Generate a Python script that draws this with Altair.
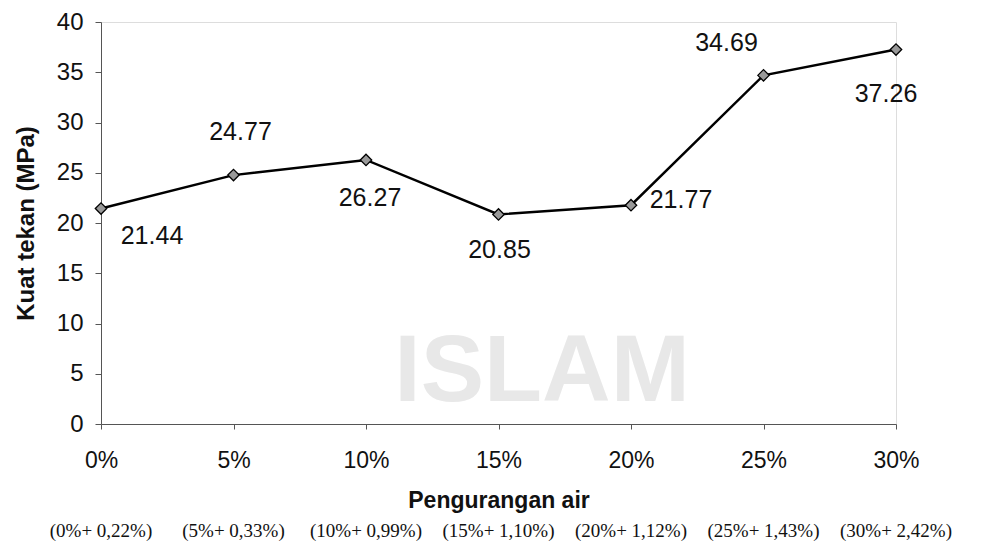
import altair as alt
import pandas as pd

categories = ["0%", "5%", "10%", "15%", "20%", "25%", "30%"]
strength = [21.44, 24.77, 26.27, 20.85, 21.77, 34.69, 37.26]
labels = ["21.44", "24.77", "26.27", "20.85", "21.77", "34.69", "37.26"]
subtitles = ["(0%+ 0,22%)", "(5%+ 0,33%)", "(10%+ 0,99%)", "(15%+ 1,10%)",
             "(20%+ 1,12%)", "(25%+ 1,43%)", "(30%+ 2,42%)"]
y_ticks = [0, 5, 10, 15, 20, 25, 30, 35, 40]

df = pd.DataFrame({"cat": categories, "val": strength, "lab": labels, "sub": subtitles})

x_enc = alt.X("cat:O", sort=categories,
              scale=alt.Scale(type="point", padding=0),
              axis=alt.Axis(title="Pengurangan air", labelAngle=0,
                            labelFont="Liberation Sans", labelFontSize=23,
                            labelColor="#111", labelPadding=20, tickSize=5,
                            tickColor="#555", domainColor="#555",
                            titleFont="Liberation Sans", titleFontSize=23,
                            titleFontWeight="bold", titleColor="#111",
                            titlePadding=17, grid=False))
y_enc = alt.Y("val:Q", scale=alt.Scale(domain=[0, 40], nice=False),
              axis=alt.Axis(title="Kuat tekan (MPa)", values=y_ticks,
                            labelFont="Liberation Sans", labelFontSize=24,
                            labelColor="#111", labelPadding=12, tickSize=6,
                            tickColor="#555", domainColor="#555",
                            titleFont="Liberation Sans", titleFontSize=24,
                            titleFontWeight="bold", titleColor="#111",
                            titlePadding=18, grid=False))

base = alt.Chart(df)

watermark = alt.Chart(pd.DataFrame({"t": ["ISLAM"]})).mark_text(
    font="Liberation Sans", fontSize=95, fontWeight="bold", color="#e8e8e8"
).encode(x=alt.value(441), y=alt.value(350), text="t:N")

line = base.mark_line(color="black", strokeWidth=2.4).encode(x=x_enc, y=y_enc)
points = base.mark_point(shape="diamond", filled=True, size=130, fill="#999",
                         stroke="black", strokeWidth=1.3, opacity=1).encode(x=x_enc, y=y_enc)

offsets = {"0%": (51, 27), "5%": (7, -43), "10%": (4, 38), "15%": (1, 36),
           "20%": (50, -5), "25%": (-37, -32), "30%": (-10, 44)}
label_layers = []
for c in categories:
    dx, dy = offsets[c]
    label_layers.append(
        base.transform_filter(alt.datum.cat == c).mark_text(
            font="Liberation Sans", fontSize=25, color="#111", dx=dx, dy=dy
        ).encode(x=x_enc, y=y_enc, text="lab:N")
    )

bottom = base.mark_text(font="Liberation Serif", fontSize=19, color="#111").encode(
    x=x_enc, y=alt.value(509), text="sub:N")

chart = alt.layer(watermark, line, points, *label_layers, bottom).properties(
    width=795, height=402,
    padding={"left": 93, "top": 14, "right": 82, "bottom": 122},
    autosize="none",
).configure_view(stroke=None).configure(background="white")

chart.save("out.html", embed_options={"renderer": "svg", "actions": False})
